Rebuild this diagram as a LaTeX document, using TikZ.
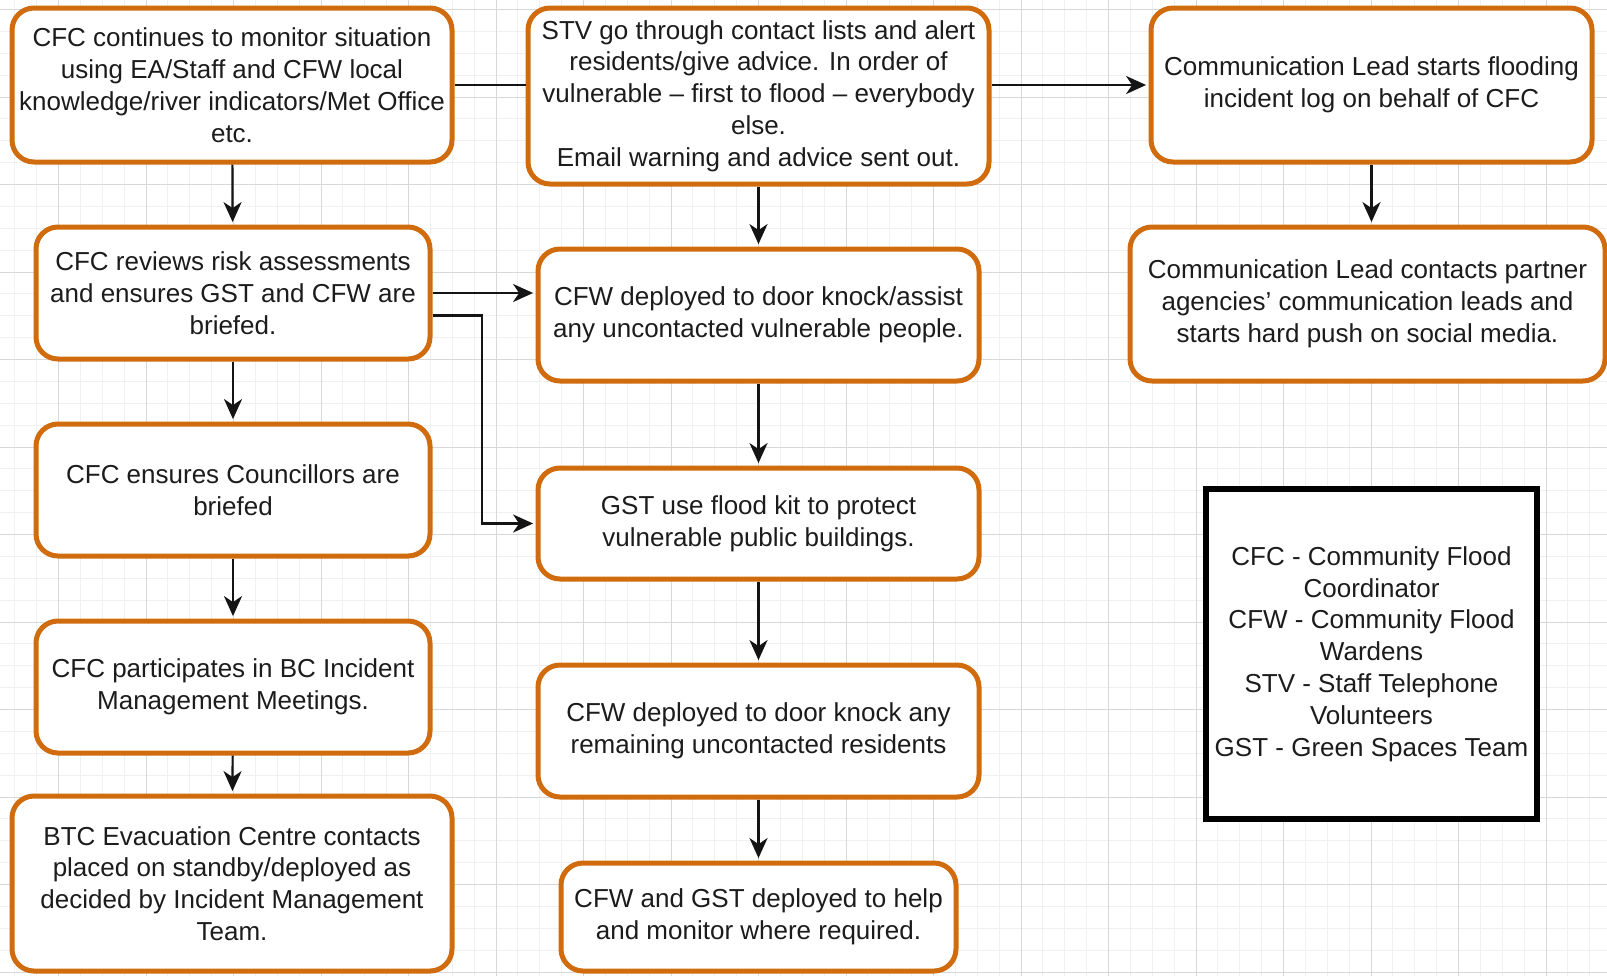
\documentclass[tikz,border=0pt]{standalone}
\usepackage{fontspec}
\setmainfont{Liberation Sans}
\usetikzlibrary{arrows.meta}

\definecolor{boxorange}{RGB}{208,108,14}
\definecolor{txt}{RGB}{28,28,28}
\definecolor{lk}{RGB}{20,20,20}
\definecolor{gridminor}{RGB}{240,240,240}
\definecolor{gridmajor}{RGB}{216,216,216}

\newcommand\diagfont{\fontsize{13pt}{15.9pt}\selectfont}

\tikzset{
  box/.style={draw=boxorange, line width=2.5pt, rounded corners=11pt, fill=white,
              align=center, inner sep=0pt, text=txt, font=\diagfont},
  keybox/.style={draw=black, line width=3pt, fill=white,
              align=center, inner sep=0pt, text=txt, font=\diagfont},
  link/.style={draw=lk, line width=1.1pt},
  arr/.style={link, -{Stealth[length=10pt,width=9pt,inset=3pt]}, shorten >=1.2pt},
}

\begin{document}
\begin{tikzpicture}[x=0.5pt, y=-0.5pt]
  \useasboundingbox (0,0) rectangle (1607,976);
  \clip (0,0) rectangle (1607,976);
  \fill[white] (0,0) rectangle (1607,976);

  % background grid
  \foreach \i in {0,...,75} {
    \draw[gridminor, line width=0.5pt] ({-7.125+21.875*\i},0) -- ++(0,976);
  }
  \foreach \i in {0,...,46} {
    \draw[gridminor, line width=0.5pt] (0,{-12.375+21.875*\i}) -- ++(1607,0);
  }
  \foreach \i in {0,...,18} {
    \draw[gridmajor, line width=0.5pt] ({58.5+87.5*\i},0) -- ++(0,976);
  }
  \foreach \i in {0,...,11} {
    \draw[gridmajor, line width=0.5pt] (0,{9.5+87.5*\i}) -- ++(1607,0);
  }

  % left column
  \node[box, minimum width=220pt, minimum height=77pt] (b1) at (232,85)
    {CFC continues to monitor situation\\using EA/Staff and CFW local\\knowledge/river indicators/Met Office\\etc.};
  \node[box, minimum width=197pt, minimum height=66pt] (b2) at (233,293)
    {CFC reviews risk assessments\\and ensures GST and CFW are\\briefed.};
  \node[box, minimum width=197pt, minimum height=66pt] (b3) at (233,490)
    {CFC ensures Councillors are\\briefed};
  \node[box, minimum width=197pt, minimum height=66pt] (b4) at (233,687)
    {CFC participates in BC Incident\\Management Meetings.};
  \node[box, minimum width=220pt, minimum height=87.5pt] (b5) at (232,883.5)
    {BTC Evacuation Centre contacts\\placed on standby/deployed as\\decided by Incident Management\\Team.};

  % middle column
  \node[box, minimum width=230.5pt, minimum height=88pt] (m1) at (758.5,96)
    {STV go through contact lists and alert\\residents/give advice. In order of\\vulnerable – first to flood – everybody\\else.\\Email warning and advice sent out.};
  \node[box, minimum width=220.5pt, minimum height=66pt] (m2) at (758.5,315)
    {CFW deployed to door knock/assist\\any uncontacted vulnerable people.};
  \node[box, minimum width=220.5pt, minimum height=55.5pt] (m3) at (758.5,523.5)
    {GST use flood kit to protect\\vulnerable public buildings.};
  \node[box, minimum width=220.5pt, minimum height=66pt] (m4) at (758.5,731)
    {CFW deployed to door knock any\\remaining uncontacted residents};
  \node[box, minimum width=197.5pt, minimum height=54pt] (m5) at (758.5,917)
    {CFW and GST deployed to help\\and monitor where required.};

  % right column
  \node[box, minimum width=220.5pt, minimum height=77pt] (r1) at (1371.5,85)
    {Communication Lead starts flooding\\incident log on behalf of CFC};
  \node[box, minimum width=237.5pt, minimum height=77pt] (r2) at (1367.5,304)
    {Communication Lead contacts partner\\agencies’ communication leads and\\starts hard push on social media.};

  % abbreviations key
  \node[keybox, minimum width=165.5pt, minimum height=165pt] (key) at (1371.5,654)
    {CFC - Community Flood\\Coordinator\\CFW - Community Flood\\Wardens\\STV - Staff Telephone\\Volunteers\\GST - Green Spaces Team};

  % connectors
  \draw[arr] (b1) -- (b2);
  \draw[arr] (b2) -- (b3);
  \draw[arr] (b3) -- (b4);
  \draw[arr] (b4) -- (b5);

  \draw[link] (b1.east) -- (b1.east -| m1.west);
  \draw[arr] (m1.east |- r1.west) -- (r1.west);

  \draw[arr] (m1) -- (m2);
  \draw[arr] (m2) -- (m3);
  \draw[arr] (m3) -- (m4);
  \draw[arr] (m4) -- (m5);

  \draw[arr] (b2.east) -- (b2.east -| m2.west);
  \coordinate (b2low) at ([yshift=-11.25pt]b2.east);
  \draw[arr] (b2low) -- ++(49.5,0) |- (m3.west);

  \draw[arr] (r1.south) -- (r1.south |- r2.north);
\end{tikzpicture}
\end{document}
